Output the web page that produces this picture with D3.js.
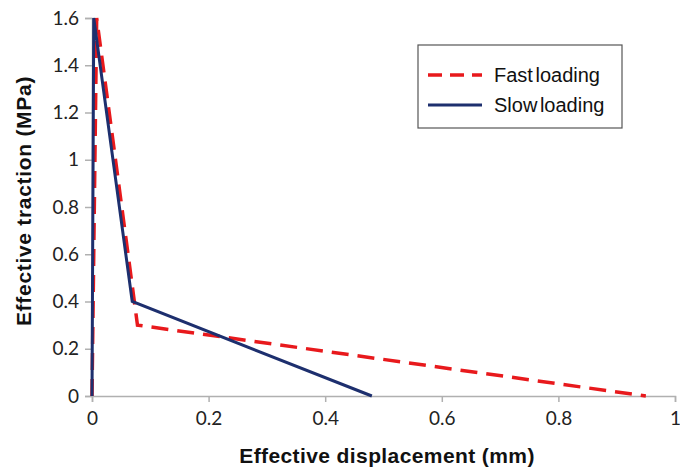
<!DOCTYPE html>
<html>
<head>
<meta charset="utf-8">
<script src="https://cdn.jsdelivr.net/npm/d3@7"></script>
<style>
  body { margin: 0; background: #fff; }
</style>
</head>
<body>
<div id="chart"></div>
<script>
// series: displacement (mm) vs traction (MPa)
var fastX = [0, 0.008, 0.078, 0.95]
var fastY = [0, 1.6, 0.3, 0]
var slowX = [0, 0.003, 0.069, 0.48]
var slowY = [0, 1.6, 0.4, 0]
var seriesNames = ["Fast loading", "Slow loading"]
var xTicks = [0, 0.2, 0.4, 0.6, 0.8, 1]
var yTicks = [0, 0.2, 0.4, 0.6, 0.8, 1, 1.2, 1.4, 1.6]

var W = 680, H = 467
var margin = { top: 18, right: 5, bottom: 71, left: 92 }
var width = W - margin.left - margin.right,
    height = H - margin.top - margin.bottom

var svg = d3.select("#chart")
    .append("svg")
    .attr("width", W)
    .attr("height", H)

var g = svg.append("g")
    .attr("transform", "translate(" + margin.left + "," + margin.top + ")")

var x = d3.scaleLinear().domain([0, 1]).range([0, 583])
var y = d3.scaleLinear().domain([0, 1.6]).range([height, 0])

var tickFont = "19px Lato, 'Open Sans', sans-serif"

// x axis
var xAxis = g.append("g")
    .attr("transform", "translate(0," + height + ")")
    .call(d3.axisBottom(x).tickValues(xTicks).tickSize(6).tickPadding(10)
        .tickFormat(function (d) { return d3.format("")(d) }))
xAxis.select(".domain").attr("stroke", "#b0b0b0").attr("stroke-width", 1.5)
xAxis.selectAll(".tick line").attr("stroke", "#b0b0b0").attr("stroke-width", 1.5)
xAxis.selectAll("text").style("font", tickFont).attr("fill", "#222")

// y axis
var yAxis = g.append("g")
    .call(d3.axisLeft(y).tickValues(yTicks).tickSize(7).tickPadding(6)
        .tickFormat(function (d) { return d3.format("")(+d.toFixed(1)) }))
yAxis.select(".domain").attr("stroke", "#b0b0b0").attr("stroke-width", 1.5)
yAxis.selectAll(".tick line").attr("stroke", "#b0b0b0").attr("stroke-width", 1.5)
yAxis.selectAll("text").style("font", tickFont).attr("fill", "#222")

var line = d3.line()
    .x(function (d) { return x(d[0]) })
    .y(function (d) { return y(d[1]) })

var fastData = d3.zip(fastX, fastY)
var slowData = d3.zip(slowX, slowY)

g.append("path")
    .datum(fastData)
    .attr("d", line)
    .attr("fill", "none")
    .attr("stroke", "#e8191c")
    .attr("stroke-width", 3.5)
    .attr("stroke-dasharray", "17,9")

g.append("path")
    .datum(slowData)
    .attr("d", line)
    .attr("fill", "none")
    .attr("stroke", "#1d2f6e")
    .attr("stroke-width", 3)

// axis titles
svg.append("text")
    .attr("x", 387)
    .attr("y", 463)
    .attr("text-anchor", "middle")
    .style("font", "bold 21px 'Liberation Sans', Arial, sans-serif")
    .style("letter-spacing", "0.4px")
    .attr("fill", "#111")
    .text("Effective displacement (mm)")

svg.append("text")
    .attr("transform", "translate(31,201) rotate(-90)")
    .attr("text-anchor", "middle")
    .style("font", "bold 21px 'Liberation Sans', Arial, sans-serif")
    .style("letter-spacing", "0.7px")
    .attr("fill", "#111")
    .text("Effective traction (MPa)")

// legend
var legend = svg.append("g").attr("transform", "translate(418,45)")
legend.append("rect")
    .attr("width", 204)
    .attr("height", 83)
    .attr("fill", "#fff")
    .attr("stroke", "#555")
    .attr("stroke-width", 1.2)

var legendStyles = [
    { color: "#e8191c", dash: "14,8", w: 3.5 },
    { color: "#1d2f6e", dash: null, w: 3 }
]
seriesNames.forEach(function (name, i) {
    var ly = 30 + i * 30
    legend.append("line")
        .attr("x1", 10).attr("x2", 64)
        .attr("y1", ly).attr("y2", ly)
        .attr("stroke", legendStyles[i].color)
        .attr("stroke-width", legendStyles[i].w)
        .attr("stroke-dasharray", legendStyles[i].dash)
    legend.append("text")
        .attr("x", 76)
        .attr("y", ly + 7)
        .style("font", "20px 'Liberation Sans', Arial, sans-serif")
        .style("word-spacing", "-3px")
        .attr("fill", "#111")
        .text(name)
})
</script>
</body>
</html>
